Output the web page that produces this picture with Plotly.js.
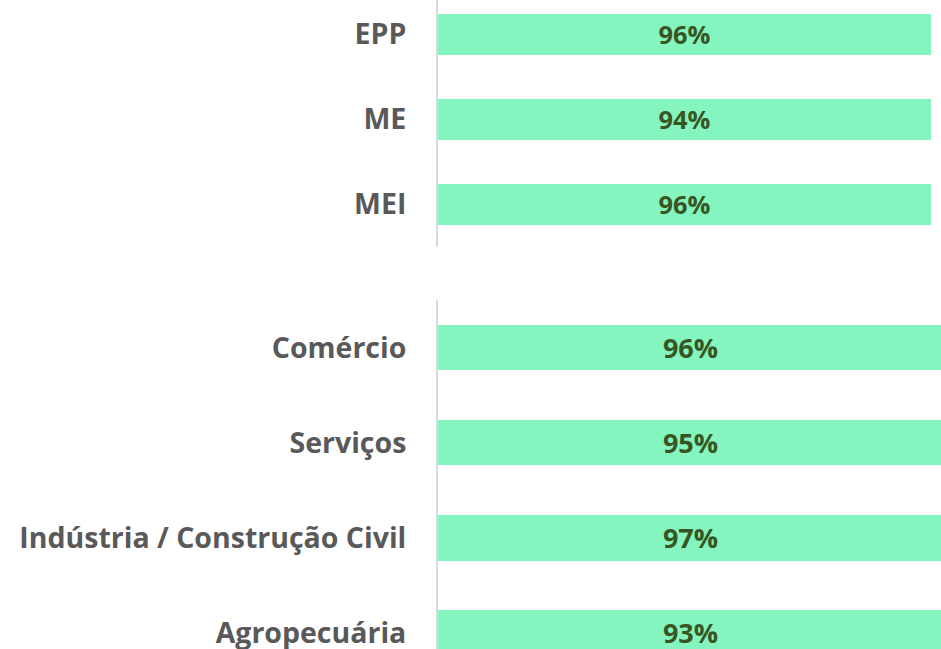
<!DOCTYPE html>
<html>
<head>
<meta charset="utf-8">
<script src="https://cdn.plot.ly/plotly-3.0.1.min.js"></script>
<style>
html,body{margin:0;padding:0;background:#fff;}
#chart{width:941px;height:649px;}
</style>
</head>
<body>
<div id="chart"></div>
<script>
// Porte (size) group
const sizeCategories = ['EPP', 'ME', 'MEI'];
const sizeValues = [96, 94, 96];
// Setor (sector) group
const sectorCategories = ['Comércio', 'Serviços', 'Indústria / Construção Civil', 'Agropecuária'];
const sectorValues = [96, 95, 97, 93];

const barColor = '#84F5BE';
const valueColor = '#375623';
const labelColor = '#595959';
const fontFamily = '"Open Sans", sans-serif';

function pct(arr) { return arr.map(v => v + '%'); }

const traces = [
  {
    type: 'bar', orientation: 'h',
    y: sizeCategories, x: sizeValues,
    text: pct(sizeValues), textposition: 'inside', insidetextanchor: 'middle',
    textfont: {family: fontFamily, size: 27, color: valueColor, weight: 'bold'},
    marker: {color: barColor},
    xaxis: 'x', yaxis: 'y', hoverinfo: 'none', showlegend: false
  },
  {
    type: 'bar', orientation: 'h',
    y: sectorCategories, x: sectorValues,
    text: pct(sectorValues), textposition: 'inside', insidetextanchor: 'middle',
    textfont: {family: fontFamily, size: 27, color: valueColor, weight: 'bold'},
    marker: {color: barColor},
    xaxis: 'x2', yaxis: 'y2', hoverinfo: 'none', showlegend: false
  }
];

const yCommon = {
  type: 'category',
  showline: true, linecolor: '#D9D9D9', linewidth: 2,
  showgrid: false, zeroline: false,
  ticks: '', ticklabelstandoff: 24,
  tickfont: {family: fontFamily, size: 28.5, color: labelColor, weight: 'bold'},
  fixedrange: true
};
const xCommon = {
  visible: false, showgrid: false, zeroline: false, fixedrange: true
};

const layout = {
  width: 941, height: 649,
  margin: {l: 0, r: 0, t: 0, b: 0, pad: 0},
  paper_bgcolor: '#fff', plot_bgcolor: '#fff',
  barmode: 'stack', barnorm: 'percent', bargap: 0.52,
  showlegend: false,
  xaxis: Object.assign({}, xCommon, {domain: [0.4655, 0.9894], range: [0, 100], anchor: 'y'}),
  yaxis: Object.assign({}, yCommon, {domain: [0.6194, 1], range: [2.5, -0.406], anchor: 'x'}),
  xaxis2: Object.assign({}, xCommon, {domain: [0.4655, 1], range: [0, 99.6], anchor: 'y2'}),
  yaxis2: Object.assign({}, yCommon, {domain: [0, 0.5378], range: [3.17, -0.5], anchor: 'x2'})
};

Plotly.newPlot('chart', traces, layout, {displayModeBar: false, staticPlot: true});
</script>
</body>
</html>
